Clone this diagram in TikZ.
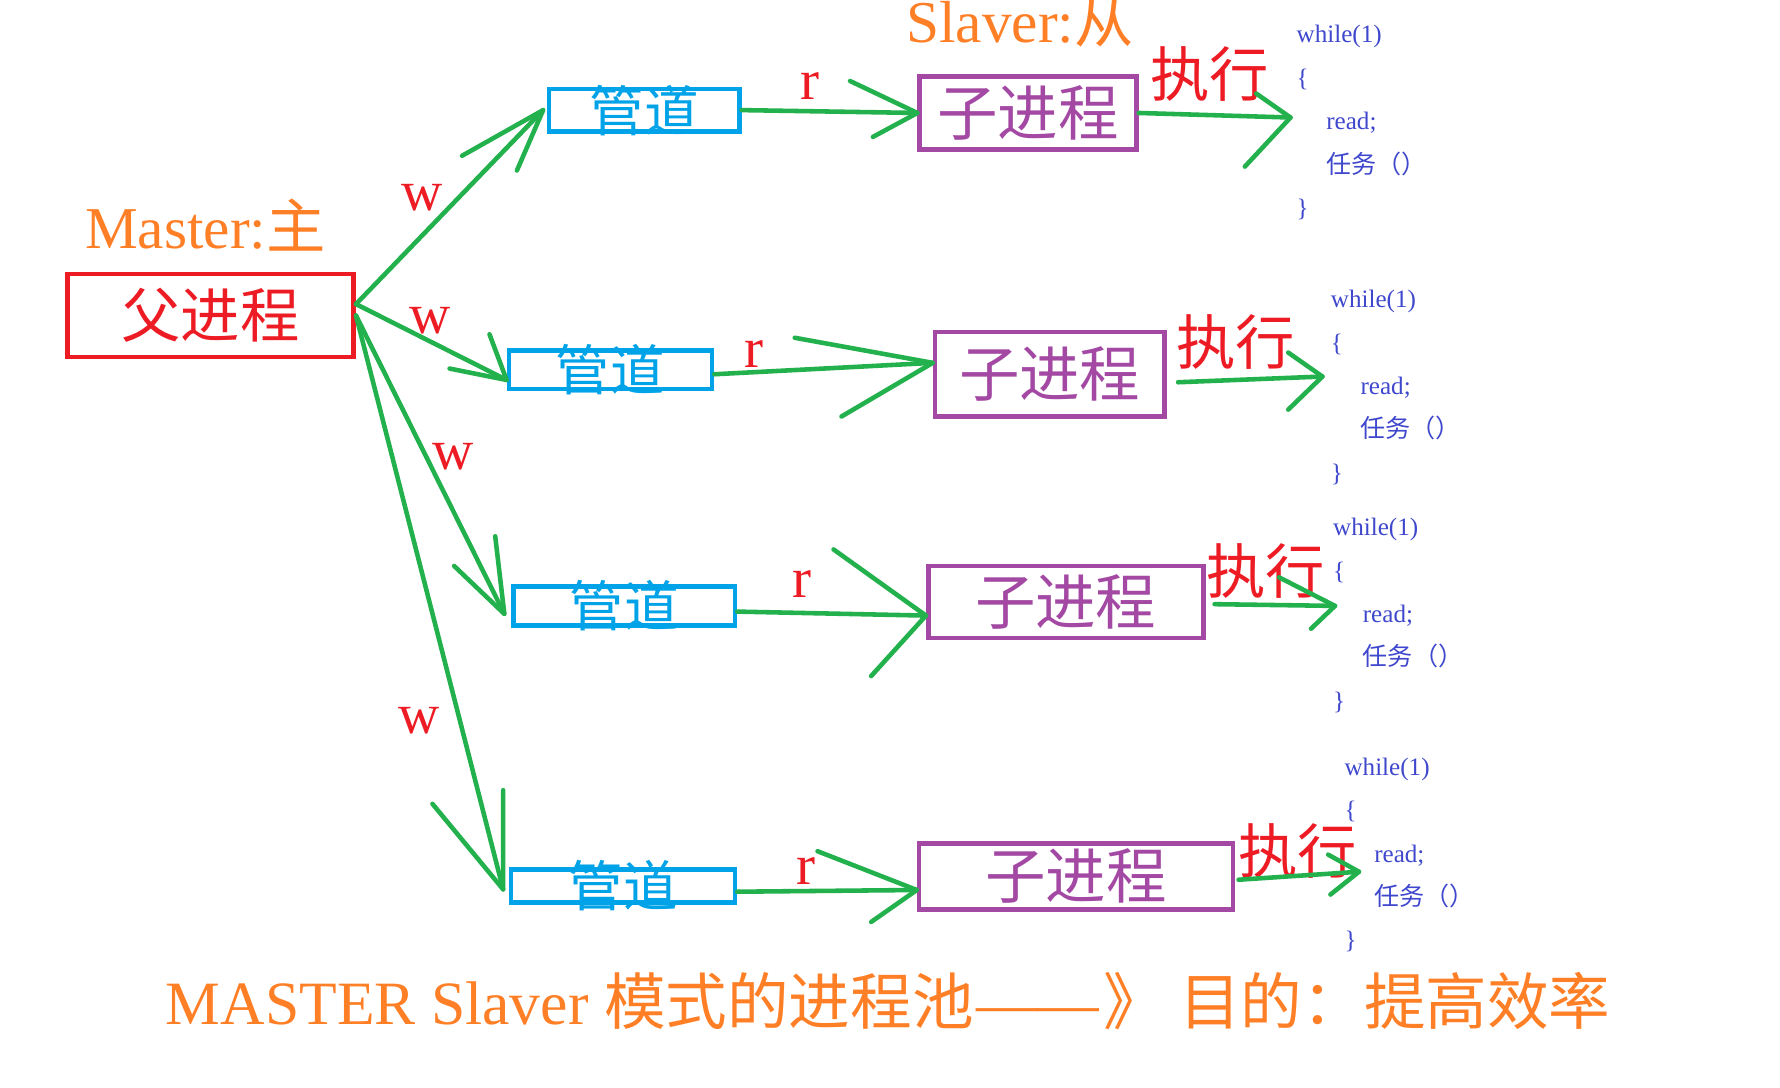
\documentclass[tikz,border=0pt]{standalone}
\usepackage{fontspec}
\setmainfont{Liberation Serif}
\newfontfamily\cjk{Noto Sans CJK SC}
\usetikzlibrary{calc}
\definecolor{cgreen}{HTML}{22B14C}
\definecolor{cred}{HTML}{ED1C24}
\definecolor{corange}{HTML}{FF7F27}
\definecolor{cpipe}{HTML}{00A2E8}
\definecolor{cpurple}{HTML}{A349A4}
\definecolor{ccode}{HTML}{3F48CC}
\begin{document}
\begin{tikzpicture}[x=0.5pt,y=-0.5pt,
  conn/.style={draw=cgreen, line width=2pt, line cap=round, line join=round},
  fatherbox/.style={draw=cred, line width=2pt, text=cred, font=\cjk\fontsize{26}{26}\selectfont, inner sep=0pt},
  pipetext/.style={text=cpipe, font=\cjk\fontsize{24}{24}\selectfont, inner sep=0pt},
  pipebox/.style={draw=cpipe, line width=2pt, inner sep=0pt, label={[pipetext]center:管道}},
  childbox/.style={draw=cpurple, line width=2pt, text=cpurple, font=\cjk\fontsize{26.5}{26.5}\selectfont, inner sep=0pt},
  rwlabel/.style={text=cred, font=\fontsize{25}{25}\selectfont, inner sep=0pt},
  exectext/.style={text=cred, font=\cjk\fontsize{26}{26}\selectfont, inner sep=0pt},
  titletext/.style={text=corange, font=\fontsize{26}{26}\selectfont, inner sep=0pt},
  codetext/.style={text=ccode, font=\fontsize{11}{19}\selectfont, align=left, anchor=north west, inner sep=0pt}
]
\useasboundingbox (0,0) rectangle (1560,953.5);

% titles
\node[titletext, anchor=base] (master) at (180,217.5) {Master:{\cjk 主}};
\node[titletext, anchor=base] (slaver) at (894,37.5) {Slaver:{\cjk 从}};

% boxes
\node[fatherbox, minimum width=125.5pt, minimum height=36.5pt] (father) at (184.5,276.5) {父进程};

\node[pipebox, minimum width=83.5pt, minimum height=18.5pt] (pipe1) at (564.5,96.5) {};
\node[pipebox, minimum width=89pt, minimum height=17pt] (pipe2) at (535,324) {};
\node[pipebox, minimum width=97pt, minimum height=17pt] (pipe3) at (547,531) {};
\node[pipebox, minimum width=98pt, minimum height=14.5pt] (pipe4) at (546,776.5) {};

\node[childbox, minimum width=95pt, minimum height=32pt] (child1) at (901,99) {子进程};
\node[childbox, minimum width=100.5pt, minimum height=37pt] (child2) at (920,328) {子进程};
\node[childbox, minimum width=120.5pt, minimum height=31.5pt] (child3) at (934,527.5) {子进程};
\node[childbox, minimum width=137.5pt, minimum height=29pt] (child4) at (943,768) {子进程};

% w labels
\node[rwlabel] (w1) at (370,173) {w};
\node[rwlabel] (w2) at (377,281) {w};
\node[rwlabel] (w3) at (397,400) {w};
\node[rwlabel] (w4) at (367,632) {w};
% r labels
\node[rwlabel] (r1) at (710,75) {r};
\node[rwlabel] (r2) at (661,310) {r};
\node[rwlabel] (r3) at (703,512) {r};
\node[rwlabel] (r4) at (706,763) {r};

% exec labels
\node[exectext] (e1) at (1060,65) {执行};
\node[exectext] (e2) at (1083,300) {执行};
\node[exectext] (e3) at (1109,500) {执行};
\node[exectext] (e4) at (1137,746) {执行};

% code blocks
\node[codetext] (code1) at (1136,22) {while(1)\\\{\\\hspace*{13pt}read;\\\hspace*{13pt}{\cjk 任务（）}\\\}};
\node[codetext] (code2) at (1166,254) {while(1)\\\{\\\hspace*{13pt}read;\\\hspace*{13pt}{\cjk 任务（）}\\\}};
\node[codetext] (code3) at (1168,454) {while(1)\\\{\\\hspace*{13pt}read;\\\hspace*{13pt}{\cjk 任务（）}\\\}};
\node[codetext] (code4) at (1178,664) {while(1)\\\{\\\hspace*{13pt}read;\\\hspace*{13pt}{\cjk 任务（）}\\\}};

% heads for exec arrows
\coordinate (h1) at (1131,103);
\coordinate (h2) at (1159,330);
\coordinate (h3) at (1170,531);
\coordinate (h4) at (1191,764);

% father -> pipes
\draw[conn] ([yshift=5pt]father.east) -- ([xshift=-1.5pt]pipe1.west);
\draw[conn] ($([xshift=-1.5pt]pipe1.west)+(-71,40)$) -- ([xshift=-1.5pt]pipe1.west) -- ++(-23,53);
\draw[conn] ([yshift=5pt]father.east) -- ([yshift=-4.5pt]pipe2.west);
\draw[conn] ($([yshift=-4.5pt]pipe2.west)+(-50,-10)$) -- ([yshift=-4.5pt]pipe2.west) -- ++(-15,-40);
\draw[conn] (father.east) -- ([xshift=-3pt,yshift=-3.5pt]pipe3.west);
\draw[conn] ($([xshift=-3pt,yshift=-3.5pt]pipe3.west)+(-44,-42)$) -- ([xshift=-3pt,yshift=-3.5pt]pipe3.west) -- ++(-8,-68);
\draw[conn] (father.east) -- ([xshift=-2.5pt,yshift=-1.5pt]pipe4.west);
\draw[conn] ($([xshift=-2.5pt,yshift=-1.5pt]pipe4.west)+(-62,-75)$) -- ([xshift=-2.5pt,yshift=-1.5pt]pipe4.west) -- ++(0,-87);

% pipes -> children
\draw[conn] (pipe1.east) -- (child1.west);
\draw[conn] ($(child1.west)+(-59,-28)$) -- (child1.west) -- ++(-39,21);
\draw[conn] ([yshift=-2pt]pipe2.east) -- ([yshift=5pt]child2.west);
\draw[conn] ($([yshift=5pt]child2.west)+(-121,-22)$) -- ([yshift=5pt]child2.west) -- ++(-80,47);
\draw[conn] ([yshift=-2.5pt]pipe3.east) -- ([yshift=-6pt]child3.west);
\draw[conn] ($([yshift=-6pt]child3.west)+(-81,-58)$) -- ([yshift=-6pt]child3.west) -- ++(-48,53);
\draw[conn] ([yshift=-2.5pt]pipe4.east) -- ([yshift=-6pt]child4.west);
\draw[conn] ($([yshift=-6pt]child4.west)+(-87,-34)$) -- ([yshift=-6pt]child4.west) -- ++(-40,28);

% children -> exec
\draw[conn] (child1.east) -- (h1);
\draw[conn] ($(h1)+(-30,-21)$) -- (h1) -- ++(-40,43);
\draw[conn] ([xshift=5pt,yshift=-3.5pt]child2.east) -- (h2);
\draw[conn] ($(h2)+(-30,-21)$) -- (h2) -- ++(-30,29);
\draw[conn] ([xshift=4pt,yshift=-1pt]child3.east) -- (h3);
\draw[conn] ($(h3)+(-49,-25)$) -- (h3) -- ++(-21,20);
\draw[conn] ([xshift=1.5pt,yshift=-1.5pt]child4.east) -- (h4);
\draw[conn] ($(h4)+(-27,-15)$) -- (h4) -- ++(-25,20);

% caption
\node[titletext, font=\fontsize{27}{27}\selectfont, anchor=base west] (caption) at (145,898) {MASTER Slaver {\cjk 模式的进程池}\kern1pt——\kern2pt{\cjk 》\ 目的：提高效率}};
\end{tikzpicture}
\end{document}
